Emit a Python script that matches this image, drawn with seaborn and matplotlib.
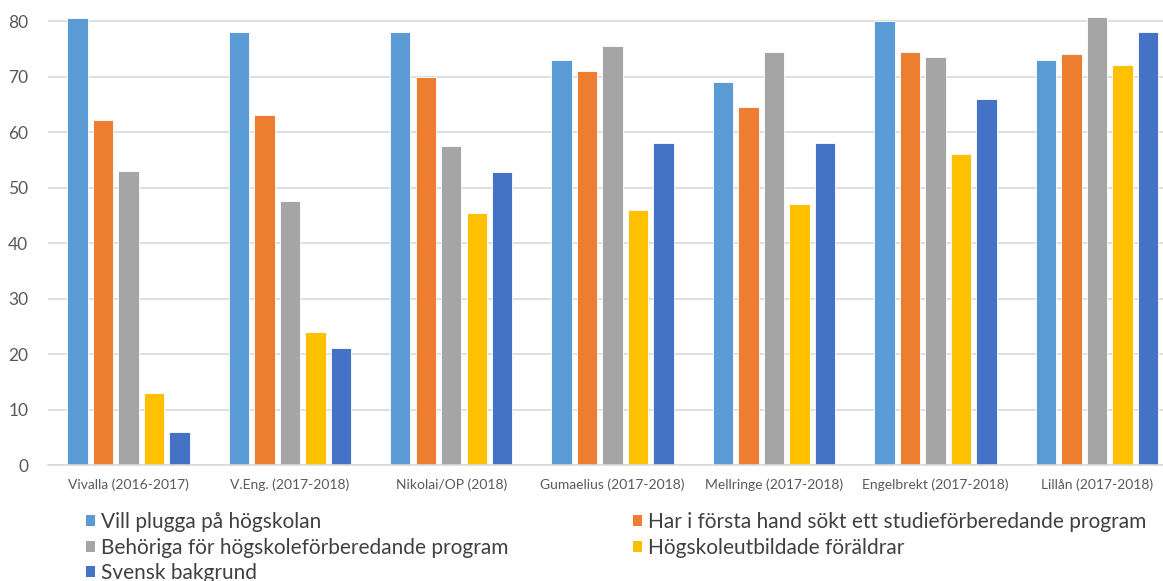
import matplotlib
matplotlib.use("Agg")
import matplotlib.pyplot as plt
from matplotlib.patches import Patch
import seaborn as sns
import pandas as pd

skolor = [
    "Vivalla (2016-2017)",
    "V.Eng. (2017-2018)",
    "Nikolai/OP (2018)",
    "Gumaelius (2017-2018)",
    "Mellringe (2017-2018)",
    "Engelbrekt (2017-2018)",
    "Lillån (2017-2018)",
]
serier = [
    "Vill plugga på högskolan",
    "Har i första hand sökt ett studieförberedande program",
    "Behöriga för högskoleförberedande program",
    "Högskoleutbildade föräldrar",
    "Svensk bakgrund",
]
vill_plugga = [80.5, 78, 78, 73, 69, 80, 73]
sokt_studieforb = [62.2, 63, 70, 71, 64.5, 74.5, 74]
behoriga = [53, 47.5, 57.5, 75.6, 74.5, 73.6, 80.7]
hogskoleutb_foraldrar = [13, 24, 45.5, 46, 47, 56, 72]
svensk_bakgrund = [6, 21, 52.8, 58, 58, 66, 78]
yticks = [0, 10, 20, 30, 40, 50, 60, 70, 80]

farger = ["#5B9BD5", "#ED7D31", "#A5A5A5", "#FFC000", "#4472C4"]

varden = [vill_plugga, sokt_studieforb, behoriga, hogskoleutb_foraldrar, svensk_bakgrund]
rader = []
for serie, vals in zip(serier, varden):
    for skola, v in zip(skolor, vals):
        rader.append({"skola": skola, "serie": serie, "andel": v})
df = pd.DataFrame(rader)

sns.set_style("white")
plt.rcParams["font.family"] = ["Lato", "DejaVu Sans"]

fig = plt.figure(figsize=(11.63, 5.81), dpi=100)
ax = fig.add_axes([47.8 / 1163, 116 / 581, (1177.5 - 47.8) / 1163, 465 / 581])

sns.barplot(
    data=df, x="skola", y="andel", hue="serie",
    order=skolor, hue_order=serier, palette=farger,
    width=0.79, gap=0.2, saturation=1, errorbar=None,
    edgecolor="white", linewidth=0.6, ax=ax, legend=False,
)

ax.set_xlim(-0.5, len(skolor) - 0.5)
ax.set_ylim(0, 83.8)
ax.set_yticks(yticks)
ax.set_yticklabels([str(t) for t in yticks], fontsize=12.5, color="#595959")
ax.set_xticks(range(len(skolor)))
ax.set_xticklabels(skolor, fontsize=10, color="#595959")
ax.tick_params(axis="both", length=0)
ax.tick_params(axis="y", pad=14)
ax.tick_params(axis="x", pad=10)
ax.set_xlabel("")
ax.set_ylabel("")
ax.yaxis.grid(True, color="#d9d9d9", linewidth=1.2)
ax.set_axisbelow(True)
for side in ["left", "right", "top"]:
    ax.spines[side].set_visible(False)
ax.spines["bottom"].set_color("#d9d9d9")
ax.spines["bottom"].set_linewidth(1.2)

handles = [Patch(facecolor=c, edgecolor="none") for c in farger]
legend_kw = dict(
    frameon=False, fontsize=15, handlelength=0.45, handleheight=0.45,
    handletextpad=0.25, labelspacing=0.27, borderpad=0, borderaxespad=0,
    labelcolor="#404040",
)
leg1 = fig.legend([handles[0], handles[2], handles[4]], [serier[0], serier[2], serier[4]],
                  loc="upper left", bbox_to_anchor=(86 / 1163, 1 - 512 / 581), **legend_kw)
leg2 = fig.legend([handles[1], handles[3]], [serier[1], serier[3]],
                  loc="upper left", bbox_to_anchor=(633 / 1163, 1 - 512 / 581), **legend_kw)

fig.savefig("out.png", dpi=100)
